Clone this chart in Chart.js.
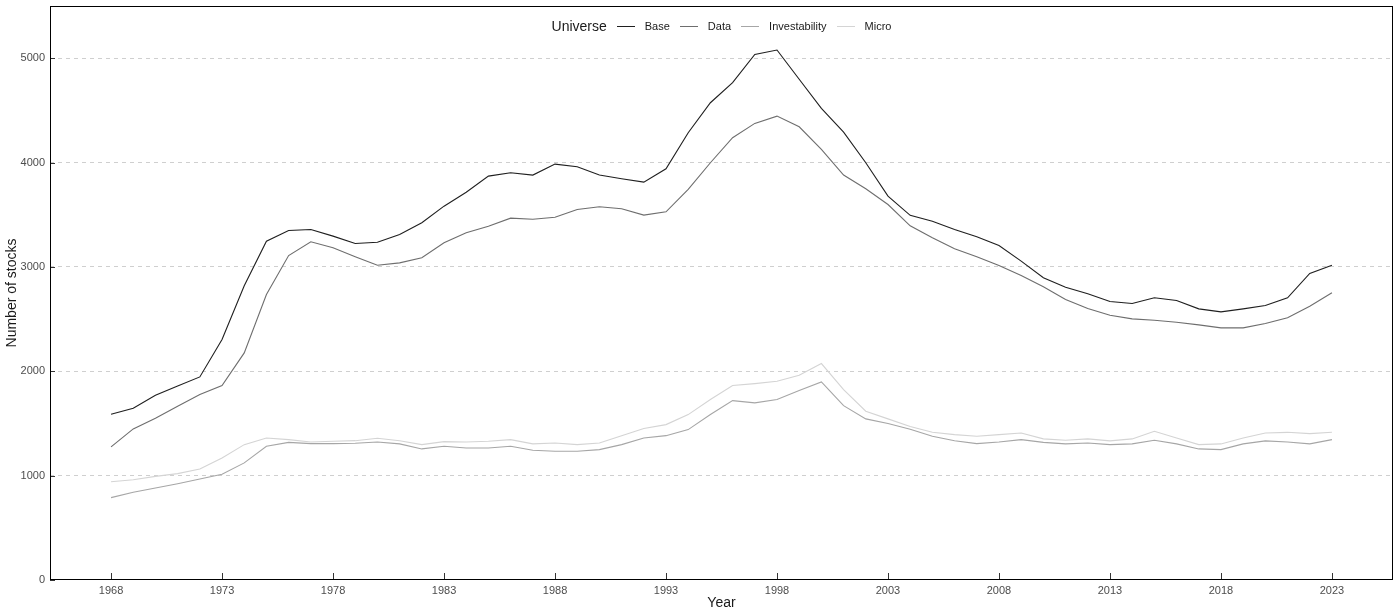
<!DOCTYPE html>
<html>
<head>
<meta charset="utf-8">
<script src="https://cdn.jsdelivr.net/npm/chart.js@4.4.1/dist/chart.umd.min.js"></script>
<style>
    body { margin: 0; background: #fff; }
    #wrap { position: relative; width: 1395px; height: 612px; }
    #legend {
        position: absolute; left: 50px; width: 1343px; top: 17px; height: 18px;
        display: flex; justify-content: center; align-items: center; gap: 10px;
        font-family: "Liberation Sans", Arial, sans-serif; color: #1a1a1a;
    }
    #legend .title { font-size: 14px; }
    #legend .key { width: 18px; height: 1px; }
    #legend .lab { font-size: 11px; }
</style>
</head>
<body>
<div id="wrap">
    <canvas id="chart" width="1395" height="612"></canvas>
    <div id="legend"></div>
</div>
<script>
// Datos (número de acciones por año)
const years = [];
for (let y = 1968; y <= 2023; y++) years.push(y);

const base = [1588, 1645, 1770, 1860, 1946, 2304, 2820, 3247, 3349, 3359,
    3295, 3224, 3237, 3310, 3423, 3582, 3716, 3870, 3902, 3880,
    3985, 3960, 3880, 3845, 3812, 3940, 4286, 4573, 4765, 5036,
    5078, 4798, 4519, 4291, 3998, 3678, 3494, 3438, 3359, 3289,
    3205, 3055, 2896, 2806, 2742, 2668, 2649, 2704, 2678, 2598,
    2569, 2598, 2630, 2704, 2937, 3016];

const dataU = [1275, 1448, 1549, 1665, 1777, 1863, 2176, 2735, 3109, 3241,
    3183, 3097, 3016, 3039, 3087, 3231, 3327, 3390, 3467, 3457,
    3476, 3550, 3576, 3557, 3496, 3528, 3742, 3998, 4238, 4375,
    4445, 4343, 4126, 3880, 3749, 3598, 3394, 3279, 3173, 3097,
    3014, 2918, 2809, 2688, 2601, 2537, 2502, 2489, 2470, 2445,
    2416, 2416, 2457, 2512, 2623, 2752];

const investability = [789, 840, 882, 923, 968, 1013, 1122, 1281, 1319, 1307,
    1307, 1310, 1323, 1304, 1256, 1281, 1265, 1265, 1281, 1243,
    1233, 1233, 1249, 1297, 1361, 1383, 1441, 1585, 1719, 1697,
    1729, 1815, 1898, 1671, 1544, 1499, 1445, 1377, 1335, 1307,
    1323, 1345, 1319, 1304, 1313, 1297, 1304, 1339, 1304, 1256,
    1249, 1304, 1333, 1323, 1304, 1345];

const micro = [942, 961, 993, 1019, 1064, 1170, 1297, 1361, 1345, 1323,
    1329, 1335, 1358, 1335, 1297, 1326, 1323, 1329, 1345, 1304,
    1313, 1297, 1313, 1383, 1451, 1489, 1585, 1729, 1863, 1882,
    1904, 1962, 2074, 1825, 1617, 1544, 1470, 1415, 1393, 1377,
    1393, 1409, 1352, 1339, 1352, 1333, 1352, 1425, 1361, 1297,
    1304, 1361, 1409, 1415, 1403, 1415];

const seriesNames = ['Base', 'Data', 'Investability', 'Micro'];
const xTicks = [1968, 1973, 1978, 1983, 1988, 1993, 1998, 2003, 2008, 2013, 2018, 2023];
const yTicks = [0, 1000, 2000, 3000, 4000, 5000];

const colors = ['#1f1f1f', '#6e6e6e', '#a6a6a6', '#d4d4d4'];
const FONT = '"Liberation Sans", Arial, sans-serif';

// Leyenda en HTML (título + claves)
function buildLegend() {
    const lg = document.getElementById('legend');
    let html = '<span class="title">Universe</span>';
    seriesNames.forEach((n, i) => {
        html += `<span class="key" style="background:${colors[i]}"></span><span class="lab">${n}</span>`;
    });
    lg.innerHTML = html;
}
buildLegend();

// Marcas de eje hacia dentro + borde del panel
const panelPlugin = {
    id: 'panel',
    afterDraw(chart) {
        const { ctx, chartArea: a, scales } = chart;
        ctx.save();
        ctx.strokeStyle = '#333333';
        ctx.lineWidth = 1;
        ctx.beginPath();
        yTicks.forEach(v => {
            const py = Math.round(scales.y.getPixelForValue(v)) + 0.5;
            ctx.moveTo(a.left, py);
            ctx.lineTo(a.left + 5, py);
        });
        xTicks.forEach(v => {
            const px = Math.round(scales.x.getPixelForValue(v)) + 0.5;
            ctx.moveTo(px, a.bottom);
            ctx.lineTo(px, a.bottom - 7);
        });
        ctx.stroke();
        ctx.strokeStyle = '#000000';
        ctx.strokeRect(a.left + 0.5, a.top + 0.5, a.right - a.left - 1, a.bottom - a.top - 1);
        ctx.restore();
    }
};

const allSeries = [base, dataU, investability, micro];

new Chart(document.getElementById('chart'), {
    type: 'line',
    data: {
        datasets: allSeries.map((vals, i) => ({
            label: seriesNames[i],
            data: years.map((yr, k) => ({ x: yr, y: vals[k] })),
            borderColor: colors[i],
            borderWidth: 1.1,
            pointRadius: 0,
            tension: 0,
            fill: false
        }))
    },
    options: {
        responsive: false,
        animation: false,
        layout: { padding: { top: 6, right: 2, left: 0, bottom: 0 } },
        plugins: {
            legend: { display: false },
            tooltip: { enabled: false }
        },
        scales: {
            x: {
                type: 'linear',
                min: 1965.25,
                max: 2025.75,
                afterBuildTicks: s => { s.ticks = xTicks.map(v => ({ value: v })); },
                afterFit: s => { s.height = 32; s.paddingLeft = 0; s.paddingRight = 0; },
                grid: { display: false, drawTicks: false },
                border: { display: false },
                ticks: {
                    padding: 4,
                    color: '#4d4d4d',
                    font: { family: FONT, size: 11 },
                    maxRotation: 0,
                    callback: v => String(v)
                },
                title: {
                    display: true,
                    text: 'Year',
                    color: '#1a1a1a',
                    font: { family: FONT, size: 14 },
                    padding: { top: 0, bottom: 0 }
                }
            },
            y: {
                min: 0,
                max: 5500,
                afterBuildTicks: s => { s.ticks = yTicks.map(v => ({ value: v })); },
                afterFit: s => { s.width = 50; s.paddingTop = 0; s.paddingBottom = 0; },
                grid: {
                    drawTicks: false,
                    lineWidth: 1,
                    color: ctx => (ctx.tick && ctx.tick.value === 0) ? 'rgba(0,0,0,0)' : '#cfcfcf'
                },
                border: { display: false, dash: [4, 4] },
                ticks: {
                    padding: 5,
                    color: '#4d4d4d',
                    font: { family: FONT, size: 11 },
                    callback: v => String(v)
                },
                title: {
                    display: true,
                    text: 'Number of stocks',
                    color: '#1a1a1a',
                    font: { family: FONT, size: 14 },
                    padding: { top: 4, bottom: 0 }
                }
            }
        }
    },
    plugins: [panelPlugin]
});
</script>
</body>
</html>
